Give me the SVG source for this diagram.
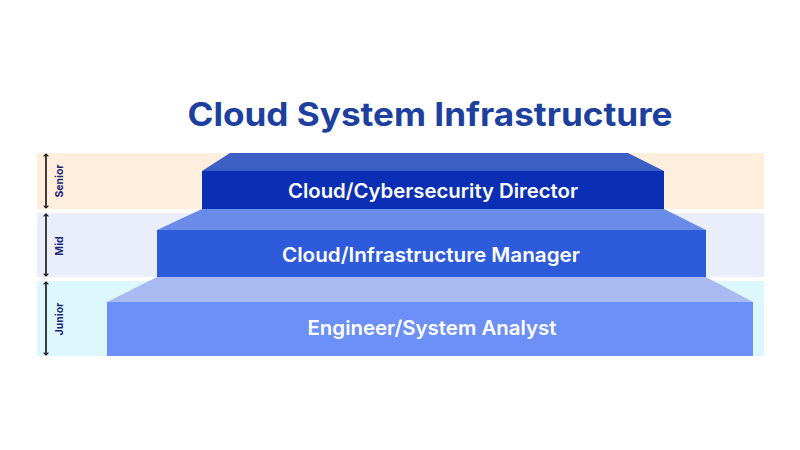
<svg xmlns="http://www.w3.org/2000/svg" width="800" height="450" viewBox="0 0 800 450">
  <defs>
    <marker id="ah" viewBox="0 0 10 10" refX="5" refY="5" markerWidth="6" markerHeight="6" orient="auto-start-reverse" markerUnits="userSpaceOnUse">
      <path d="M1,1 L5,5 L1,9" fill="none" stroke="#111" stroke-width="1.8"/>
    </marker>
    <style>
      .title { font-family: Inter, "Noto Sans", sans-serif; font-weight: 700; font-size: 32px; fill: #1d3f9e; }
      .lbl { font-family: Inter, "Noto Sans", sans-serif; font-weight: 600; font-size: 20px; fill: #ffffff; }
      .lvl { font-family: Inter, "Noto Sans", sans-serif; font-weight: 700; font-size: 10.5px; fill: #1c2677; }
      .arr { stroke: #111; stroke-width: 1.6; fill: none; marker-start: url(#ah); marker-end: url(#ah); }
    </style>
  </defs>
  <rect width="800" height="450" fill="#ffffff"/>

  <g id="bands">
    <rect x="37" y="153" width="727" height="56" fill="#fdeedd"/>
    <rect x="37" y="213" width="727" height="64" fill="#eaeefb"/>
    <rect x="37" y="281" width="727" height="75" fill="#dcf8fc"/>
  </g>

  <text class="title" x="430" y="126" text-anchor="middle" textLength="485" lengthAdjust="spacingAndGlyphs">Cloud System Infrastructure</text>

  <g id="connectors">
    <line class="arr" x1="46" y1="154" x2="46" y2="208"/>
    <line class="arr" x1="46" y1="214" x2="46" y2="276"/>
    <line class="arr" x1="46" y1="282" x2="46" y2="355"/>
  </g>

  <g id="level-senior">
    <text class="lvl" transform="translate(63,181) rotate(-90)" text-anchor="middle">Senior</text>
  </g>
  <g id="level-mid">
    <text class="lvl" transform="translate(63,246) rotate(-90)" text-anchor="middle">Mid</text>
  </g>
  <g id="level-junior">
    <text class="lvl" transform="translate(63,319) rotate(-90)" text-anchor="middle">Junior</text>
  </g>

  <g id="step-junior">
    <polygon points="157,277 706,277 753,302 107,302" fill="#a9baf1"/>
    <rect x="107" y="302" width="646" height="54" fill="#6d8ff8"/>
    <text class="lbl" x="432" y="335" text-anchor="middle" textLength="249" lengthAdjust="spacingAndGlyphs">Engineer/System Analyst</text>
  </g>

  <g id="step-mid">
    <polygon points="202,209 664,209 706,230 157,230" fill="#6a8ce9"/>
    <rect x="157" y="230" width="549" height="47" fill="#2d5bdc"/>
    <text class="lbl" x="431" y="262" text-anchor="middle" textLength="298" lengthAdjust="spacingAndGlyphs">Cloud/Infrastructure Manager</text>
  </g>

  <g id="step-senior">
    <polygon points="230,153 628,153 664,171 202,171" fill="#3b5fc4"/>
    <rect x="202" y="171" width="462" height="38" fill="#0b2fb4"/>
    <text class="lbl" x="433" y="198" text-anchor="middle" textLength="290" lengthAdjust="spacingAndGlyphs">Cloud/Cybersecurity Director</text>
  </g>
</svg>
